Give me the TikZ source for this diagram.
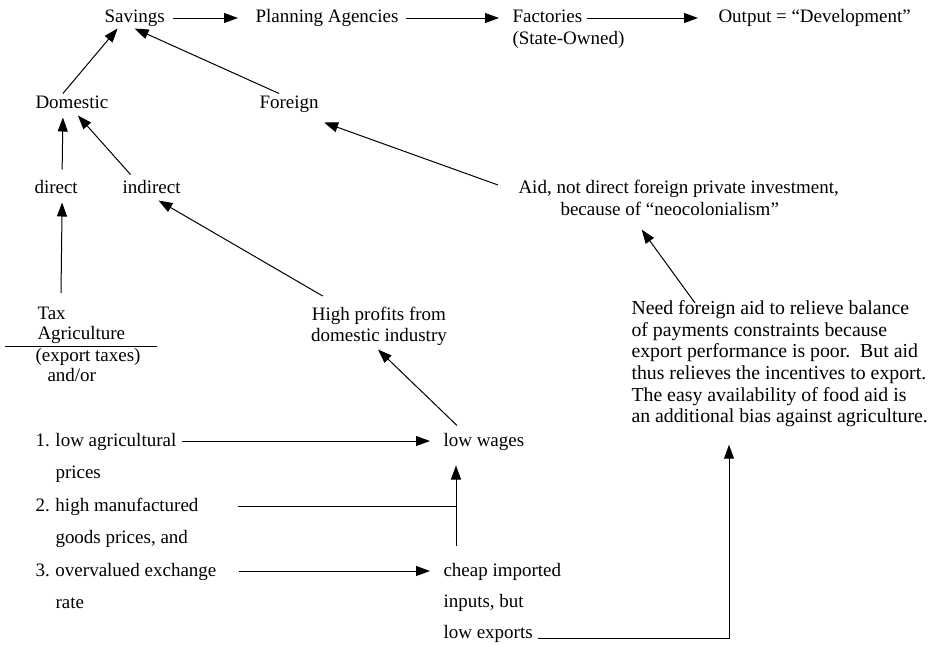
\documentclass[tikz,border=0pt]{standalone}
\usepackage{fontspec}
\setmainfont{Liberation Serif}
\usepackage{tikz}
\usetikzlibrary{arrows.meta}
\def\width{938}
\def\hauteur{645}
\def\fnt{\fontsize{19}{21}\selectfont}
\tikzset{
  lbl/.style={inner sep=0pt, anchor=base west, text height=14pt, text depth=4pt},
  blk/.style={inner sep=0pt, anchor=north west, align=left},
  arr/.style={-{Triangle[length=14pt,width=10pt]}}
}

\begin{document}
\begin{tikzpicture}[x=1pt, y=-1pt, font=\fnt, line width=1pt]
\useasboundingbox (0,0) rectangle (\width,\hauteur);
%\draw[step=50, line width=0.2pt, black!20!white] (0,0) grid (\width,\hauteur);
% top row
\node[lbl] (savings) at (104,23) {Savings};
\node[lbl] (planning) at (255,23) {Planning Agencies};
\node[lbl] (factories) at (512,23) {Factories};
\node[lbl] (stateown) at (512,44) {(State-Owned)};
\node[lbl] (output) at (718,23) {Output = “Development”};
% where savings come from
\node[lbl] (domestic) at (35,108) {Domestic};
\node[lbl] (foreign) at (259,108) {Foreign};
\node[lbl] (direct) at (34,193) {direct};
\node[lbl] (indirect) at (122,193) {indirect};
\node[blk, font=\fontsize{19}{22}\selectfont] (aid) at (518,180) {Aid, not direct foreign private investment,\\\hspace*{42pt}because of “neocolonialism”};
\node[blk, font=\fontsize{19}{20}\selectfont] (tax) at (35,307) {\hspace*{2pt}Tax\\\hspace*{2pt}Agriculture\\[2pt](export taxes)\\\hspace*{12pt}and/or};
\draw (5,346) -- (157,346);
\node[blk, anchor=north, align=center] (profits) at (379,307) {High profits from\\domestic industry};
\node[blk, font=\fontsize{19.8}{21.7}\selectfont] (need) at (631,300) {Need foreign aid to relieve balance\\of payments constraints because\\export performance is poor.\ \ But aid\\thus relieves the incentives to export.\\The easy availability of food aid is\\an additional bias against agriculture.};
% the three price biases
\node[lbl] (i1) at (35,446) {\makebox[20pt][l]{1.}low agricultural};
\node[lbl] (i1b) at (55,478) {prices};
\node[lbl] (i2) at (35,511) {\makebox[20pt][l]{2.}high manufactured};
\node[lbl] (i2b) at (55,543) {goods prices, and};
\node[lbl] (i3) at (35,576) {\makebox[20pt][l]{3.}overvalued exchange};
\node[lbl] (i3b) at (55,608) {rate};
\node[lbl] (wages) at (443,446) {low wages};
\node[lbl] (cheap) at (443,576) {cheap imported};
\node[lbl] (inputs) at (443,607) {inputs, but};
\node[lbl] (lowexp) at (443,638) {low exports};
% arrows
\draw[arr, shorten <=8pt, shorten >=17pt] (savings) -- (planning);
\draw[arr, shorten <=7pt, shorten >=13pt] (planning) -- (factories);
\draw[arr, shorten <=4pt, shorten >=20pt] (factories) -- (output);
\draw[arr] ([xshift=-9pt]domestic.north) -- ([xshift=-17pt,yshift=-1pt]savings.south);
\draw[arr] ([xshift=-10pt]foreign.north) -- ([yshift=-1pt]savings.south);
\draw[arr] ([xshift=6pt,yshift=9pt]direct.north) -- ([xshift=-9pt,yshift=-5pt]domestic.south);
\draw[arr] ([xshift=-21pt,yshift=4pt]indirect.north) -- ([xshift=6pt,yshift=-3pt]domestic.south);
\draw[arr] ([xshift=-20pt,yshift=-5pt]aid.north west) -- ([xshift=5pt,yshift=-10pt]foreign.south east);
\draw[arr] ([xshift=64pt,yshift=-3pt]need.north west) -- ([xshift=-37pt,yshift=-13pt]aid.south);
\draw[arr] ([xshift=26pt,yshift=14pt]tax.north west) -- ([xshift=6pt,yshift=-5pt]direct.south);
\draw[arr] ([xshift=12pt,yshift=11pt]profits.north west) -- ([xshift=7pt,yshift=-3pt]indirect.south);
\draw[arr] ([xshift=14pt,yshift=6pt]wages.north west) -- ([xshift=-1pt,yshift=-3pt]profits.south);
\draw[arr, shorten <=5pt, shorten >=13pt] (i1) -- (wages);
\coordinate (join) at ([xshift=13pt]wages.south west);
\draw[arr, shorten <=16pt, shorten >=15pt] (join |- cheap.north) -- (join);
\draw[shorten <=39pt] (i2) -- (i2 -| join);
\draw[arr, shorten <=22pt, shorten >=13pt] (i3) -- (cheap);
\draw[arr] ([xshift=5pt]lowexp.base east) -| ([xshift=98pt,yshift=-17pt]need.south west);
\end{tikzpicture}
\end{document}
